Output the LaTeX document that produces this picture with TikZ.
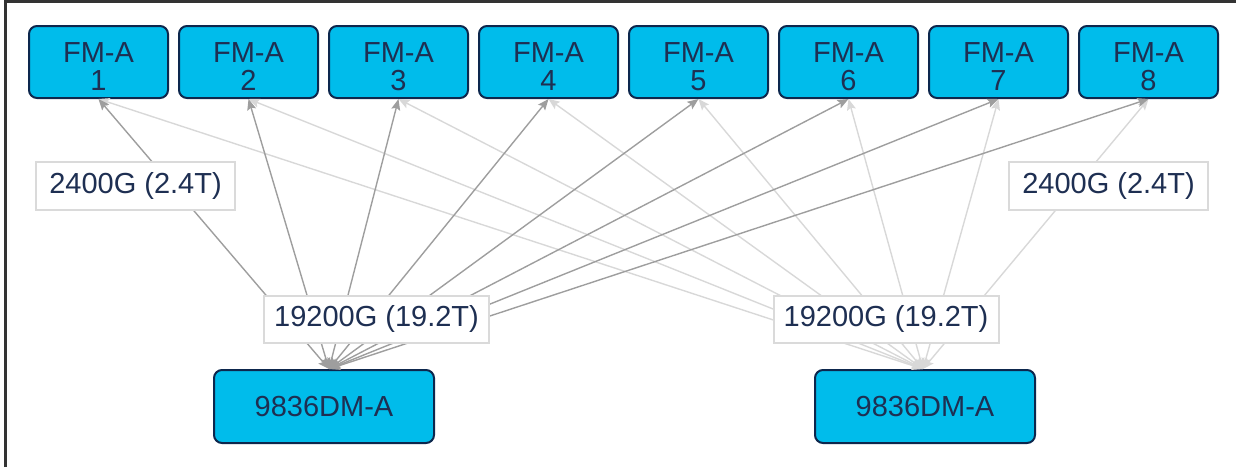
\documentclass[tikz,border=0pt]{standalone}
\usepackage{fontspec}
\setmainfont{Liberation Sans}
\usetikzlibrary{arrows.meta}
\definecolor{cblue}{HTML}{00BCEB}
\definecolor{navy}{HTML}{0D274D}
\definecolor{txt}{HTML}{1E2F52}
\definecolor{darkln}{HTML}{9E9E9E}
\definecolor{lightln}{HTML}{D8D8D8}
\definecolor{lblbd}{HTML}{DADADA}
\definecolor{frm}{HTML}{333333}
\begin{document}
\begin{tikzpicture}[x=1pt,y=-1pt,
  every node/.style={font=\fontsize{29}{31}\selectfont, text=txt},
  fmbox/.style={rectangle, rounded corners=8pt, draw=navy, line width=2pt, fill=cblue,
    minimum width=139pt, minimum height=72pt, inner sep=0pt, align=center,
    font=\fontsize{29}{28}\selectfont},
  dmbox/.style={fmbox, minimum width=220pt, minimum height=73pt},
  lblbox/.style={rectangle, draw=lblbd, line width=2pt, fill=white, inner sep=0pt, minimum height=47pt},
  darkarrow/.style={draw=darkln, line width=1.4pt,
    {Stealth[length=11pt,width=9pt,inset=2pt]}-{Stealth[length=11pt,width=9pt,inset=2pt]}},
  lightarrow/.style={darkarrow, draw=lightln}]
\useasboundingbox (0,0) rectangle (1236,467);
% frame
\coordinate (f0) at (5,467);
\coordinate (f1) at (5,1.5);
\coordinate (f2) at (1236,1.5);
\draw[frm, line width=3pt] (f0) -- (f1) -- (f2);
% FM-A boxes
\foreach \i in {1,...,8}
  \node[fmbox] (fm\i) at ({98.5+150*(\i-1)},62) {\rule{0pt}{29pt}FM-A\\\i};
% DM boxes
\node[dmbox] (dm1) at (324,406.5) {9836DM-A};
\node[dmbox] (dm2) at (925,406.5) {9836DM-A};
% connectors
\foreach \i in {1,...,8}
  \draw[lightarrow] ([xshift=-2pt]dm2.north) -- (fm\i.south);
\foreach \i in {1,...,8}
  \draw[darkarrow] ([xshift=5pt]dm1.north) -- (fm\i.south);
% labels
\node[lblbox, minimum width=199pt, minimum height=48pt] (l24a) at (135.5,186) {2400G (2.4T)};
\node[lblbox, minimum width=199pt, minimum height=48pt] (l24b) at (1108.5,186) {2400G (2.4T)};
\node[lblbox, minimum width=225pt] (l19a) at (376.5,319) {19200G (19.2T)};
\node[lblbox, minimum width=225pt] (l19b) at (886,319) {19200G (19.2T)};
\end{tikzpicture}
\end{document}
